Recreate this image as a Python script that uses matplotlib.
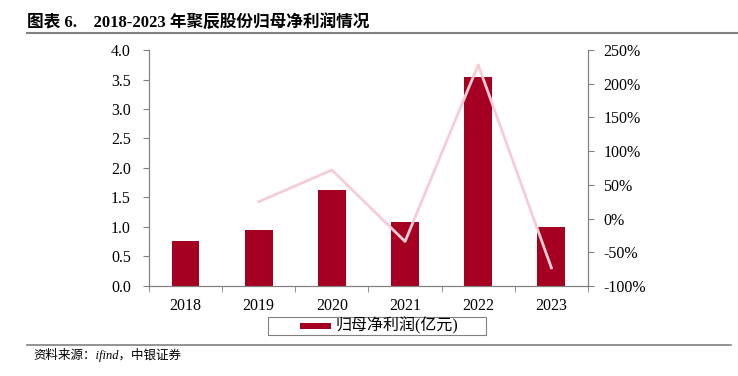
import matplotlib.pyplot as plt
import numpy as np
from matplotlib.lines import Line2D
from matplotlib.patches import Rectangle

plt.rcParams['font.family'] = ['Liberation Serif', 'Noto Sans CJK SC']

years = ['2018', '2019', '2020', '2021', '2022', '2023']
profit = [0.755, 0.95, 1.63, 1.08, 3.54, 1.00]
growth_years = ['2019', '2020', '2021', '2022', '2023']
growth = [25.0, 72.0, -34.0, 228.0, -73.0]

bar_color = '#A50021'
line_color = '#F6CDD4'
spine_color = '#808080'

fig = plt.figure(figsize=(7.38, 3.76), dpi=100)
ax = fig.add_axes([0.2019, 0.2394, 0.5948, 0.6276])

x = np.arange(len(years))
ax.bar(x, profit, width=0.38, color=bar_color, zorder=2)
ax.set_ylim(0, 4.0)
ax.set_yticks(np.arange(0, 4.01, 0.5))
ax.set_yticklabels([f'{v:.1f}' for v in np.arange(0, 4.01, 0.5)])
ax.set_xlim(-0.5, len(years) - 0.5)
ax.set_xticks(x)
ax.set_xticklabels(years)
ax.set_xticks(np.arange(-0.5, len(years), 1), minor=True)
ax.tick_params(axis='x', which='major', length=0, pad=9, labelsize=11.5)
ax.tick_params(axis='x', which='minor', length=4, color=spine_color)
ax.tick_params(axis='y', length=4, color=spine_color, labelsize=11.5, pad=9)

ax2 = ax.twinx()
gx = [years.index(y) for y in growth_years]
ax2.plot(gx, growth, color=line_color, lw=2, zorder=3)
ax2.set_ylim(-100, 250)
ax2.set_yticks(np.arange(-100, 251, 50))
ax2.set_yticklabels([f'{v}%' for v in range(-100, 251, 50)])
ax2.tick_params(axis='y', length=4, color=spine_color, labelsize=11.5, pad=7)

for a in (ax, ax2):
    a.spines['top'].set_visible(False)
    for s in ('left', 'right', 'bottom'):
        a.spines[s].set_color(spine_color)

# legend box drawn by hand to match the wide padding of the original
fig.add_artist(Rectangle((0.363, 0.109), 0.296, 0.048, transform=fig.transFigure,
                         facecolor='white', edgecolor='#808080', lw=0.8))
fig.add_artist(Rectangle((0.4065, 0.125), 0.042, 0.017, transform=fig.transFigure,
                         facecolor=bar_color, edgecolor='none'))
fig.text(0.454, 0.133, '归母净利润(亿元)', fontsize=11.5, va='center', ha='left')

fig.text(0.036, 0.941, '图表 6.    2018-2023 年聚辰股份归母净利润情况',
         fontsize=12, fontweight='bold', va='center', ha='left')
fig.add_artist(Line2D([0.036, 1.0], [0.912, 0.912], color='#808080', lw=1.5))
fig.add_artist(Line2D([0.036, 0.99], [0.082, 0.082], color='#808080', lw=1.2))
fig.text(0.045, 0.056, '资料来源：ifind，中银证券', fontsize=9, style='italic',
         va='center', ha='left')

fig.savefig('out.png', dpi=100)
